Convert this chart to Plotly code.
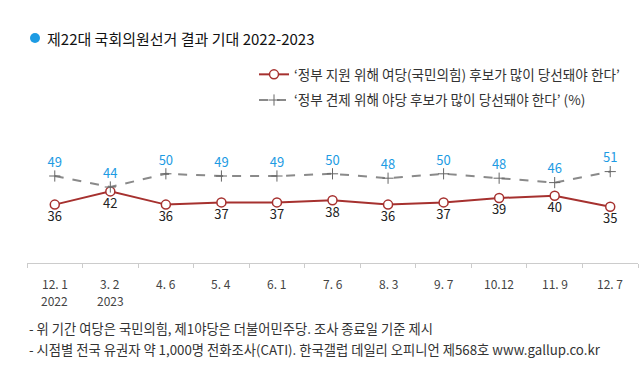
import plotly.graph_objects as go

dates = ["12. 1", "3. 2", "4. 6", "5. 4", "6. 1", "7. 6", "8. 3", "9. 7", "10.12", "11. 9", "12. 7"]
years = ["2022", "2023", "", "", "", "", "", "", "", "", ""]
ruling = [36, 42, 36, 37, 37, 38, 36, 37, 39, 40, 35]
opposition = [49, 44, 50, 49, 49, 50, 48, 50, 48, 46, 51]

name_ruling = "‘정부 지원 위해 여당(국민의힘) 후보가 많이 당선돼야 한다’"
name_opp = "‘정부 견제 위해 야당 후보가 많이 당선돼야 한다’ (%)"
title = "제22대 국회의원선거 결과 기대 2022-2023"
notes = [
    "- 위 기간 여당은 국민의힘, 제1야당은 더불어민주당. 조사 종료일 기준 제시",
    "- 시점별 전국 유권자 약 1,000명 전화조사(CATI). 한국갤럽 데일리 오피니언 제568호 www.gallup.co.kr",
]

FONT = "Noto Sans CJK KR"
x = list(range(len(dates)))

# plot area geometry (pixels)
TOP, BOT, LEFT, RIGHT = 55, 263, 27, 638
H = float(BOT - TOP)
W = float(RIGHT - LEFT)
def py(pix):
    return (BOT - pix) / H
def px(pix):
    return (pix - LEFT) / W
def val(pix):
    return (283.8 - pix) / 2.2

fig = go.Figure()
fig.add_trace(go.Scatter(
    x=x, y=ruling, name=name_ruling, legendgroup="a", mode="lines+markers+text",
    line=dict(color="#a6312f", width=2),
    marker=dict(symbol="circle", size=9, color="white", line=dict(color="#a6312f", width=1.5)),
    text=[str(v) for v in ruling], textposition="bottom center",
    textfont=dict(color="#222222", size=13, family=FONT),
))
fig.add_trace(go.Scatter(
    x=x, y=opposition, name=name_opp, legendgroup="b", mode="lines+markers+text",
    line=dict(color="#8a8a8a", width=2, dash="dash"),
    marker=dict(symbol="cross-thin", size=8, color="#666666", line=dict(color="#666666", width=1)),
    text=[str(v) for v in opposition], textposition="top center",
    textfont=dict(color="#1d9be3", size=13, family=FONT),
))

annotations = []
for i, (d, yr) in enumerate(zip(dates, years)):
    annotations.append(dict(x=i, y=py(283), xref="x", yref="paper", text=d, showarrow=False,
                            font=dict(size=12, color="#444444", family=FONT), yanchor="middle"))
    if yr:
        annotations.append(dict(x=i, y=py(300), xref="x", yref="paper", text=yr, showarrow=False,
                                font=dict(size=12, color="#444444", family=FONT), yanchor="middle"))

fig.update_layout(
    width=640, height=392,
    margin=dict(l=LEFT, r=640 - RIGHT, t=TOP, b=392 - BOT),
    paper_bgcolor="white", plot_bgcolor="white",
    font=dict(family=FONT, color="#333333"),
    showlegend=True,
    legend=dict(x=px(254), y=py(59), xanchor="left", yanchor="top", bgcolor="rgba(0,0,0,0)",
                font=dict(size=13.6, color="#333333", family=FONT), tracegroupgap=5),
    xaxis=dict(range=[-0.5, 10.5], showgrid=False, zeroline=False, showticklabels=False,
               showline=True, linecolor="#cccccc", linewidth=1,
               tickvals=[i - 0.5 for i in range(12)], ticks="outside", ticklen=4, tickcolor="#cccccc"),
    yaxis=dict(range=[val(BOT), val(TOP)], visible=False),
    annotations=annotations,
)

fig.add_annotation(x=px(45), y=py(38), xref="paper", yref="paper", text=title, showarrow=False,
                   xanchor="left", yanchor="middle", font=dict(size=15, color="#111111", family=FONT))
fig.add_shape(type="circle", xref="paper", yref="paper",
              x0=px(30), x1=px(40), y0=py(43), y1=py(33), fillcolor="#1d9be3", line=dict(width=0))
for k, t in enumerate(notes):
    fig.add_annotation(x=px(27), y=py(328 + 21 * k), xref="paper", yref="paper", text=t, showarrow=False,
                       xanchor="left", yanchor="middle", font=dict(size=13.3, color="#333333", family=FONT))

fig.write_html("out.html", config={"displayModeBar": False},
               post_script="document.body.style.margin='0px';")
